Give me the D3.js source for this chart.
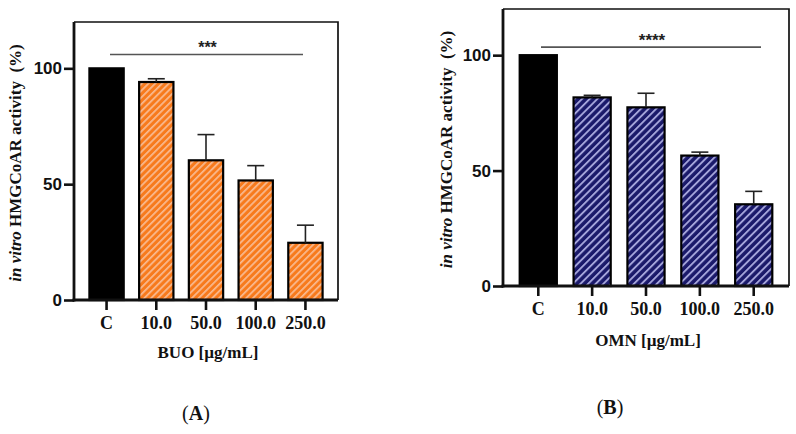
<!DOCTYPE html>
<html>
<head>
<meta charset="utf-8">
<script src="https://cdn.jsdelivr.net/npm/d3@7/dist/d3.min.js"></script>
<style>
  html, body { margin: 0; padding: 0; background: #fff; }
  svg { display: block; }
</style>
</head>
<body>
<svg id="chart" width="796" height="434"></svg>
<script>
// ---- data ----
const categories = ["C", "10.0", "50.0", "100.0", "250.0"];
const buoValues = [100, 94.1, 60.3, 51.6, 24.7];
const buoErrors = [0, 1.4, 11.1, 6.4, 7.6];
const omnValues = [100, 81.7, 77.4, 56.5, 35.4];
const omnErrors = [0, 0.9, 6.1, 1.5, 5.6];
const yTicks = [0, 50, 100];
const panelLabels = ["A", "B"];
const xTitles = ["BUO [\u00b5g/mL]", "OMN [\u00b5g/mL]"];
const sigLabels = ["***", "****"];
const sigLevels = [106, 103.5];

const svg = d3.select("#chart");
const defs = svg.append("defs");

function hatch(id, base, stripe, period, sw) {
  const p = defs.append("pattern")
    .attr("id", id)
    .attr("patternUnits", "userSpaceOnUse")
    .attr("width", period).attr("height", period)
    .attr("patternTransform", "rotate(45)");
  p.append("rect").attr("width", period).attr("height", period).attr("fill", base);
  p.append("rect").attr("x", 0).attr("width", sw).attr("height", period).attr("fill", stripe);
}
hatch("hOrange", "#f77a1c", "#f9bb92", 4.8, 1.7);
hatch("hNavy", "#1a196a", "#a4a4da", 5.4, 1.9);

const panels = [
  { values: buoValues, errors: buoErrors, fill: "url(#hOrange)",
    left: 74, right: 338, top: 22, bottom: 300,
    tickBase: 329, titleBase: 358, yTitleX: 21, labelX: 196, labelBase: 420,
    sigFrom: 110, sigTo: 303, sigFont: 16 },
  { values: omnValues, errors: omnErrors, fill: "url(#hNavy)",
    left: 503, right: 789, top: 9, bottom: 286,
    tickBase: 315, titleBase: 346, yTitleX: 452, labelX: 610, labelBase: 414,
    sigFrom: 541, sigTo: 761, sigFont: 17 }
];

panels.forEach((P, pi) => {
  const g = svg.append("g");
  const x = d3.scaleBand().domain(categories).range([P.left, P.right])
    .paddingInner(0.31).paddingOuter(0.31);
  const y = d3.scaleLinear().domain([0, 120]).range([P.bottom, P.top]);

  // frame (top & right)
  g.append("path")
    .attr("d", `M${P.left},${P.top}H${P.right}V${P.bottom}`)
    .attr("fill", "none").attr("stroke", "#111").attr("stroke-width", 1.7);

  // bars
  g.selectAll("rect.bar").data(categories).join("rect")
    .attr("class", "bar")
    .attr("x", d => x(d))
    .attr("width", x.bandwidth())
    .attr("y", (d, i) => y(P.values[i]))
    .attr("height", (d, i) => y(0) - y(P.values[i]))
    .attr("fill", (d, i) => i === 0 ? "#000" : P.fill)
    .attr("stroke", "#000").attr("stroke-width", 2.2);

  // error bars
  const eb = g.selectAll("g.err").data(categories.filter((d, i) => P.errors[i] > 0)).join("g").attr("class", "err");
  eb.append("line")
    .attr("x1", d => x(d) + x.bandwidth() / 2)
    .attr("x2", d => x(d) + x.bandwidth() / 2)
    .attr("y1", d => y(P.values[categories.indexOf(d)]))
    .attr("y2", d => { const i = categories.indexOf(d); return y(P.values[i] + P.errors[i]); })
    .attr("stroke", "#222").attr("stroke-width", 1.6);
  eb.append("line")
    .attr("x1", d => x(d) + x.bandwidth() / 2 - 8.5)
    .attr("x2", d => x(d) + x.bandwidth() / 2 + 8.5)
    .attr("y1", d => { const i = categories.indexOf(d); return y(P.values[i] + P.errors[i]); })
    .attr("y2", d => { const i = categories.indexOf(d); return y(P.values[i] + P.errors[i]); })
    .attr("stroke", "#222").attr("stroke-width", 1.6);

  // y axis
  const yAxis = d3.axisLeft(y).tickValues(yTicks).tickSize(10).tickPadding(2).tickSizeOuter(0);
  const ya = g.append("g").attr("transform", `translate(${P.left},0)`).call(yAxis);
  ya.select(".domain").attr("stroke", "#111").attr("stroke-width", 2.8)
    .attr("d", `M0,${P.top}V${P.bottom + 1.4}`);
  ya.selectAll(".tick line").attr("stroke", "#111").attr("stroke-width", 2.6);
  ya.selectAll(".tick text")
    .attr("font-family", "'Liberation Sans', Arial, sans-serif")
    .attr("font-weight", "bold").attr("font-size", 17).attr("fill", "#111");

  // x axis
  const xAxis = d3.axisBottom(x).tickSize(10).tickSizeOuter(0);
  const xa = g.append("g").attr("transform", `translate(0,${P.bottom})`).call(xAxis);
  xa.select(".domain").attr("stroke", "#111").attr("stroke-width", 2.8)
    .attr("d", `M${P.left - 1.4},0H${P.right}`);
  xa.selectAll(".tick line").attr("stroke", "#111").attr("stroke-width", 2.6);
  xa.selectAll(".tick text")
    .attr("y", P.tickBase - P.bottom).attr("dy", 0)
    .attr("font-family", "'Liberation Serif', 'Times New Roman', serif")
    .attr("font-weight", "bold").attr("font-size", 18).attr("fill", "#111");

  // x title
  g.append("text")
    .attr("x", (x(categories[0]) + x(categories[4]) + x.bandwidth()) / 2 + 2)
    .attr("y", P.titleBase)
    .attr("text-anchor", "middle")
    .attr("font-family", "'Liberation Serif', 'Times New Roman', serif")
    .attr("font-weight", "bold").attr("font-size", 17).attr("fill", "#111")
    .text(xTitles[pi]);

  // y title
  const yt = g.append("text")
    .attr("transform", `translate(${P.yTitleX},${(y(0) + y(120)) / 2 + 2}) rotate(-90)`)
    .attr("text-anchor", "middle")
    .attr("font-family", "'Liberation Serif', 'Times New Roman', serif")
    .attr("font-weight", "bold").attr("font-size", 17).attr("fill", "#111");
  yt.append("tspan").attr("font-style", "italic").text("in vitro");
  yt.append("tspan").text(" HMGCoAR activity\u00a0 (%)");

  // significance bar
  g.append("line")
    .attr("x1", P.sigFrom).attr("x2", P.sigTo)
    .attr("y1", y(sigLevels[pi])).attr("y2", y(sigLevels[pi]))
    .attr("stroke", "#555").attr("stroke-width", 1.6);
  g.append("text")
    .attr("x", (P.sigFrom + P.sigTo) / 2 + 1)
    .attr("y", y(sigLevels[pi]) - 1)
    .attr("text-anchor", "middle")
    .attr("font-family", "'Liberation Sans', Arial, sans-serif")
    .attr("font-weight", "bold").attr("font-size", P.sigFont).attr("fill", "#222")
    .text(sigLabels[pi]);

  // panel label
  const pl = g.append("text")
    .attr("x", P.labelX).attr("y", P.labelBase)
    .attr("text-anchor", "middle")
    .attr("font-family", "'Liberation Serif', 'Times New Roman', serif")
    .attr("font-size", 20).attr("fill", "#111");
  pl.append("tspan").text("(");
  pl.append("tspan").attr("font-weight", "bold").text(panelLabels[pi]);
  pl.append("tspan").text(")");
});
</script>
</body>
</html>
